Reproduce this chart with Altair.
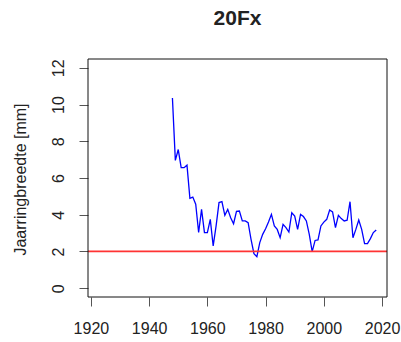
import altair as alt
import pandas as pd

# Annual ring width series for tree 20Fx
years = list(range(1948, 2019))
ring_width = [
    10.36, 6.96, 7.55, 6.56, 6.56, 6.70, 4.89, 4.96, 4.57, 3.03,
    4.29, 3.03, 3.03, 3.75, 2.30, 3.39, 4.66, 4.71, 3.97, 4.29,
    3.84, 3.51, 4.18, 4.20, 3.66, 3.66, 3.57, 2.66, 1.88, 1.72,
    2.48, 2.93, 3.24, 3.60, 4.02, 3.39, 3.20, 2.75, 3.48, 3.30,
    3.06, 4.11, 3.93, 3.20, 4.02, 3.90, 3.66, 2.93, 1.99, 2.60,
    2.63, 3.39, 3.60, 3.75, 4.26, 4.15, 3.30, 3.97, 3.79, 3.66,
    3.70, 4.71, 2.75, 3.20, 3.71, 3.20, 2.43, 2.43, 2.70, 3.03,
    3.17,
]
threshold = [2]

x_ticks = [1920, 1940, 1960, 1980, 2000, 2020]
y_ticks = [0, 2, 4, 6, 8, 10, 12]
x_range = [1919, 2021.7]
y_range = [-0.48, 12.48]

series = pd.DataFrame({"year": years, "ring": ring_width})
limit = pd.DataFrame({"ring": threshold, "x0": [x_range[0]], "x1": [x_range[1]]})
frame = pd.DataFrame({"k": [0]})

FONT = "Liberation Sans"
TEXT = "#222222"
PW, PH = 299, 238

x_scale = alt.Scale(domain=x_range, nice=False, zero=False)
y_scale = alt.Scale(domain=y_range, nice=False, zero=False)

x_axis = alt.Axis(
    values=x_ticks, title=None, grid=False, domain=False,
    tickSize=9, tickColor="#555555", labelFontSize=16, labelFont=FONT,
    labelColor=TEXT, labelPadding=14, format="d",
    labelOverlap=False, labelBound=False, labelFlush=False,
)
y_axis = alt.Axis(
    values=y_ticks, tickCount=7, grid=False, domain=False,
    tickSize=9, tickColor="#555555", labelFontSize=16, labelFont=FONT,
    labelColor=TEXT, labelAngle=270, labelAlign="center",
    labelBaseline="middle", labelPadding=21,
    labelOverlap=False, labelBound=False, labelFlush=False,
    title="Jaarringbreedte [mm]", titleFont=FONT, titleFontSize=16,
    titleFontWeight="normal", titleColor=TEXT, titleAngle=270,
    titleX=-68, titleY=120, titleAlign="center", titleBaseline="middle",
)

line = alt.Chart(series).mark_line(color="#0000FF", strokeWidth=1.3).encode(
    x=alt.X("year:Q", scale=x_scale, axis=x_axis),
    y=alt.Y("ring:Q", scale=y_scale, axis=y_axis),
)

# horizontal reference line at the threshold value, across the full x range
rule = alt.Chart(limit).mark_rule(strokeWidth=1.8).encode(
    x=alt.X("x0:Q", scale=x_scale, axis=x_axis),
    x2="x1:Q",
    y=alt.Y("ring:Q", scale=y_scale, axis=y_axis),
    color=alt.value("#FF3333"),
)

# box around the plotting region
box = alt.Chart(frame).mark_rect(
    fill="transparent", stroke="#111111", strokeWidth=1
).encode(
    x=alt.value(0), x2=alt.value(PW), y=alt.value(0), y2=alt.value(PH),
)

chart = (
    alt.layer(line, rule, box)
    .properties(
        width=PW,
        height=PH,
        title=alt.TitleParams(
            "20Fx", font=FONT, fontSize=21, fontWeight="bold",
            color=TEXT, anchor="middle", offset=30,
        ),
        autosize=alt.AutoSizeParams(type="none"),
        padding={"left": 88, "top": 59, "right": 14, "bottom": 45},
        background="white",
    )
    .configure_view(stroke=None)
)

chart.save("out.html", embed_options={"renderer": "svg", "actions": False})
